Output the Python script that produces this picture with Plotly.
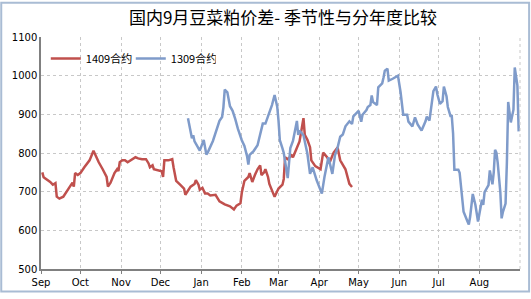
import pandas as pd
import plotly.graph_objects as go

# days since 1 Sep of each season, and spread values
days_1409 = [1, 2, 7, 9, 11, 12, 14, 17, 22, 24, 25, 26, 28, 30, 33, 36, 37, 40, 42, 44, 47, 50, 51, 53,
             56, 58, 59, 60, 62, 64, 66, 68, 72, 74, 77, 80, 82, 83, 85, 86, 89, 92, 93, 94, 97, 100,
             101, 103, 106, 109, 110, 114, 117, 118, 120, 121, 123, 125, 127, 129, 133, 136, 140, 144,
             147, 149, 152, 153, 155, 158, 159, 161, 163, 165, 167, 168, 170, 171, 173, 174, 177, 178,
             181, 184, 185, 186, 188, 191, 192, 194, 195, 197, 200, 201, 203, 205, 206, 209, 213, 215,
             218, 220, 223, 226, 228, 232, 235, 237]
vals_1409 = [750, 737, 725, 718, 722, 687, 682, 687, 713, 723, 713, 748, 743, 748, 763, 776, 781, 806, 789,
             776, 758, 738, 713, 723, 748, 758, 753, 776, 781, 781, 776, 781, 789, 786, 784, 784, 773, 763,
             768, 758, 755, 753, 738, 781, 781, 784, 763, 728, 718, 708, 692, 713, 720, 730, 718, 705, 710,
             695, 695, 690, 692, 675, 667, 662, 654, 664, 670, 697, 728, 738, 748, 725, 743, 758, 768, 743,
             750, 758, 738, 720, 695, 687, 708, 718, 733, 789, 784, 794, 789, 806, 814, 830, 890, 847, 834,
             815, 781, 766, 758, 801, 789, 776, 801, 814, 781, 758, 720, 712]

days_1309 = [112, 115, 116, 117, 121, 123, 124, 126, 127, 131, 134, 136, 138, 139, 140, 142, 144, 146, 148,
             150, 153, 155, 157, 158, 159, 162, 165, 167, 169, 171, 173, 176, 178, 180, 181, 182, 184, 185,
             188, 190, 192, 195, 196, 197, 200, 203, 205, 207, 210, 214, 216, 219, 222, 224, 226, 228, 230,
             232, 235, 237, 238, 241, 242, 244, 245, 248, 249, 251, 252, 253, 256, 257, 260, 261, 262, 264,
             265, 268, 272, 274, 275, 276, 279, 280, 283, 285, 287, 290, 293, 294, 296, 298, 299, 301, 302,
             304, 306, 307, 309, 310, 312, 313, 314, 315, 318, 319, 321, 322, 325, 326, 327, 329, 331, 333,
             336, 337, 338, 340, 341, 342, 344, 345, 346, 347, 348, 350, 351, 352, 354, 355, 356, 358, 359,
             360, 361, 363, 364]
vals_1309 = [890, 838, 846, 830, 806, 826, 834, 796, 801, 831, 863, 883, 893, 918, 964, 957, 921, 909, 888,
             863, 833, 818, 792, 770, 795, 805, 820, 850, 876, 876, 894, 924, 950, 920, 883, 833, 812, 800,
             735, 813, 831, 883, 847, 858, 846, 798, 746, 763, 730, 695, 738, 789, 746, 794, 814, 842, 848,
             869, 882, 875, 895, 906, 909, 881, 899, 911, 919, 924, 949, 932, 924, 970, 980, 995, 1013, 1018,
             987, 992, 1000, 957, 924, 899, 899, 881, 869, 892, 874, 858, 882, 894, 884, 927, 960, 972, 952,
             927, 934, 972, 947, 919, 896, 896, 851, 757, 757, 749, 681, 648, 623, 615, 635, 694, 666, 623,
             679, 666, 699, 712, 717, 755, 719, 750, 808, 801, 775, 699, 631, 648, 669, 775, 932, 879, 892,
             912, 1021, 975, 856]

season_start = pd.Timestamp("2013-09-01")
month_ticks = pd.date_range("2013-09-01", "2014-08-01", freq="MS")
month_labels = ["Sep", "Oct", "Nov", "Dec", "Jan", "Feb", "Mar", "Apr", "May", "Jun", "Jul", "Aug"]
y_ticks = [500, 600, 700, 800, 900, 1000, 1100]

x_1409 = season_start + pd.to_timedelta(days_1409, unit="D")
x_1309 = season_start + pd.to_timedelta(days_1309, unit="D")

RED = "#C0504D"
BLUE = "#7F9BCA"
FONT = "DejaVu Sans"

fig = go.Figure()
fig.add_trace(go.Scatter(x=x_1409, y=vals_1409, mode="lines", name="1409合约",
                         line=dict(color=RED, width=2.5)))
fig.add_trace(go.Scatter(x=x_1309, y=vals_1309, mode="lines", name="1309合约",
                         line=dict(color=BLUE, width=2.5)))

fig.update_layout(
    width=531, height=299,
    margin=dict(l=41, r=11, t=37, b=25),
    paper_bgcolor="white", plot_bgcolor="white",
    font=dict(family=FONT, size=10, color="#000000"),
    title=dict(text="国内9月豆菜粕价差- 季节性与分年度比较",
               font=dict(family="Noto Sans CJK SC", size=17, color="#000000"),
               x=0.533, xanchor="center", y=0.94, yanchor="middle"),
    showlegend=True,
    legend=dict(orientation="h", x=0.01, y=0.97, xanchor="left", yanchor="top",
                bgcolor="rgba(0,0,0,0)", font=dict(family="Noto Sans CJK SC", size=11),
                itemwidth=30, entrywidth=40, tracegroupgap=0),
)
fig.update_xaxes(
    type="date", range=[season_start, pd.Timestamp("2014-09-01")],
    tickvals=month_ticks, ticktext=month_labels,
    showgrid=True, gridcolor="#C8C8C8", griddash="dot", gridwidth=1,
    showline=True, linecolor="#808080", linewidth=1.5,
    ticks="outside", ticklen=3, tickcolor="#808080",
    tickfont=dict(family=FONT, size=10),
)
fig.update_yaxes(
    range=[500, 1100], tickvals=y_ticks,
    showgrid=True, gridcolor="#C8C8C8", griddash="dot", gridwidth=1,
    showline=True, linecolor="#808080", linewidth=1.5,
    ticks="", tickfont=dict(family=FONT, size=10), zeroline=False,
)
# right plot-area border (dashed, like the grid)
fig.add_shape(type="line", xref="paper", yref="paper", x0=1, x1=1, y0=0, y1=1,
              line=dict(color="#C8C8C8", width=1, dash="dot"))
# outer chart frame
fig.add_shape(type="rect", xref="paper", yref="paper",
              x0=-0.083, x1=1.019, y0=-0.097, y1=1.148,
              line=dict(color="#A9BCD4", width=2))

fig.write_html("out.html")
